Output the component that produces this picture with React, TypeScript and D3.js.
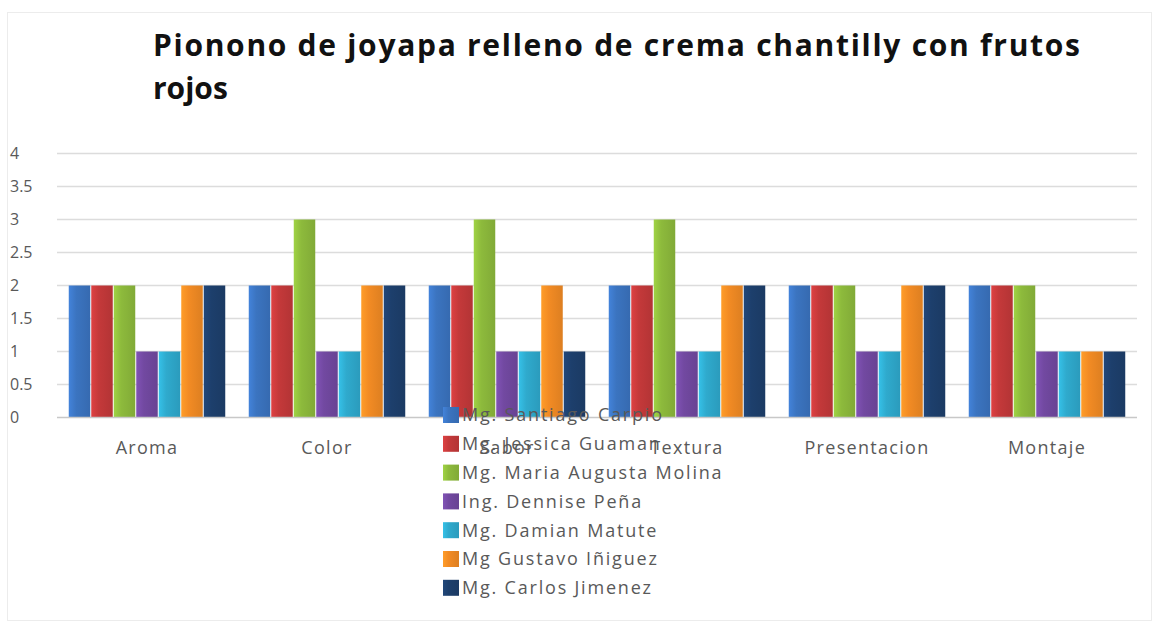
import React from "react";
import * as d3 from "d3";

const categories = ["Aroma", "Color", "Sabor", "Textura", "Presentacion", "Montaje"];
const seriesNames = [
  "Mg. Santiago Carpio",
  "Mg. Jessica Guaman",
  "Mg. Maria Augusta Molina",
  "Ing. Dennise Peña",
  "Mg. Damian Matute",
  "Mg Gustavo Iñiguez",
  "Mg. Carlos Jimenez",
];
const santiago = [2, 2, 2, 2, 2, 2];
const jessica = [2, 2, 2, 2, 2, 2];
const maria = [2, 3, 3, 3, 2, 2];
const dennise = [1, 1, 1, 1, 1, 1];
const damian = [1, 1, 1, 1, 1, 1];
const gustavo = [2, 2, 2, 2, 2, 1];
const carlos = [2, 2, 1, 2, 2, 1];
const seriesValues = [santiago, jessica, maria, dennise, damian, gustavo, carlos];
const colors = ["#3b74c0", "#c4393a", "#8dba3c", "#7249a1", "#2faacd", "#f28b24", "#1d3f6c"];
const yTicks = [0, 0.5, 1, 1.5, 2, 2.5, 3, 3.5, 4];
const titleLine1 = "Pionono de joyapa relleno de crema chantilly con frutos";
const titleLine2 = "rojos";

export default function App() {
  const W = 1158, H = 624;
  const x0 = d3.scaleBand<string>().domain(categories).range([57, 1137]).paddingInner(0.125).paddingOuter(0.0625);
  const x1 = d3.scaleBand<number>().domain(d3.range(seriesNames.length)).range([0, x0.bandwidth()]);
  const y = d3.scaleLinear().domain([0, 4]).range([417.5, 153.5]);
  const font = "'Open Sans', sans-serif";
  const gray = "#595959";
  return (
    <svg width={W} height={H} style={{ position: "absolute", left: 0, top: 0, background: "#fff" }}>
      <defs>
        {colors.map((c, i) => {
          const light = d3.color(c)!.brighter(0.35).formatHex();
          const dark = d3.color(c)!.darker(0.25).formatHex();
          return (
            <linearGradient key={i} id={`g${i}`} x1="0" x2="1" y1="0" y2="0">
              <stop offset="0" stopColor={light} />
              <stop offset="0.35" stopColor={c} />
              <stop offset="1" stopColor={dark} />
            </linearGradient>
          );
        })}
      </defs>
      <rect x={7.5} y={12.5} width={1144} height={608} fill="none" stroke="#ececec" />
      <text x={153} y={56} fontFamily={font} fontWeight="bold" fontSize={30} fill="#111" textLength={927} lengthAdjust="spacing">
        {titleLine1}
      </text>
      <text x={153} y={98.5} fontFamily={font} fontWeight="bold" fontSize={30} fill="#111">
        {titleLine2}
      </text>
      {yTicks.map((t) => (
        <g key={t}>
          {t > 0 && <line x1={57} x2={1137} y1={y(t)} y2={y(t)} stroke="#dcdcdc" strokeWidth={1.5} />}
          <text x={10} y={y(t)} dy="0.35em" fontFamily={font} fontSize={16} fill={gray}>
            {t}
          </text>
        </g>
      ))}
      {categories.map((c, ci) => (
        <g key={c} transform={`translate(${x0(c)},0)`}>
          {seriesValues.map((vals, si) => (
            <rect
              key={si}
              x={x1(si)! + 0.5}
              width={x1.bandwidth() - 1}
              y={y(vals[ci])}
              height={y(0) - y(vals[ci])}
              fill={`url(#g${si})`}
            />
          ))}
        </g>
      ))}
      <line x1={57} x2={1137} y1={y(0)} y2={y(0)} stroke="#c8c8c8" strokeWidth={1.5} />
      {categories.map((c) => (
        <text key={c} x={x0(c)! + x0.bandwidth() / 2} y={448} dy="0.35em" textAnchor="middle" fontFamily={font} fontSize={18} letterSpacing={1.3} fill={gray}>
          {c}
        </text>
      ))}
      {seriesNames.map((n, i) => {
        const cy = 415 + i * 28.8;
        return (
          <g key={n}>
            <rect x={443} y={cy - 8} width={16} height={16} fill={`url(#g${i})`} />
            <text x={462} y={cy} dy="0.35em" fontFamily={font} fontSize={18} letterSpacing={1.8} fill={gray}>
              {n}
            </text>
          </g>
        );
      })}
    </svg>
  );
}
